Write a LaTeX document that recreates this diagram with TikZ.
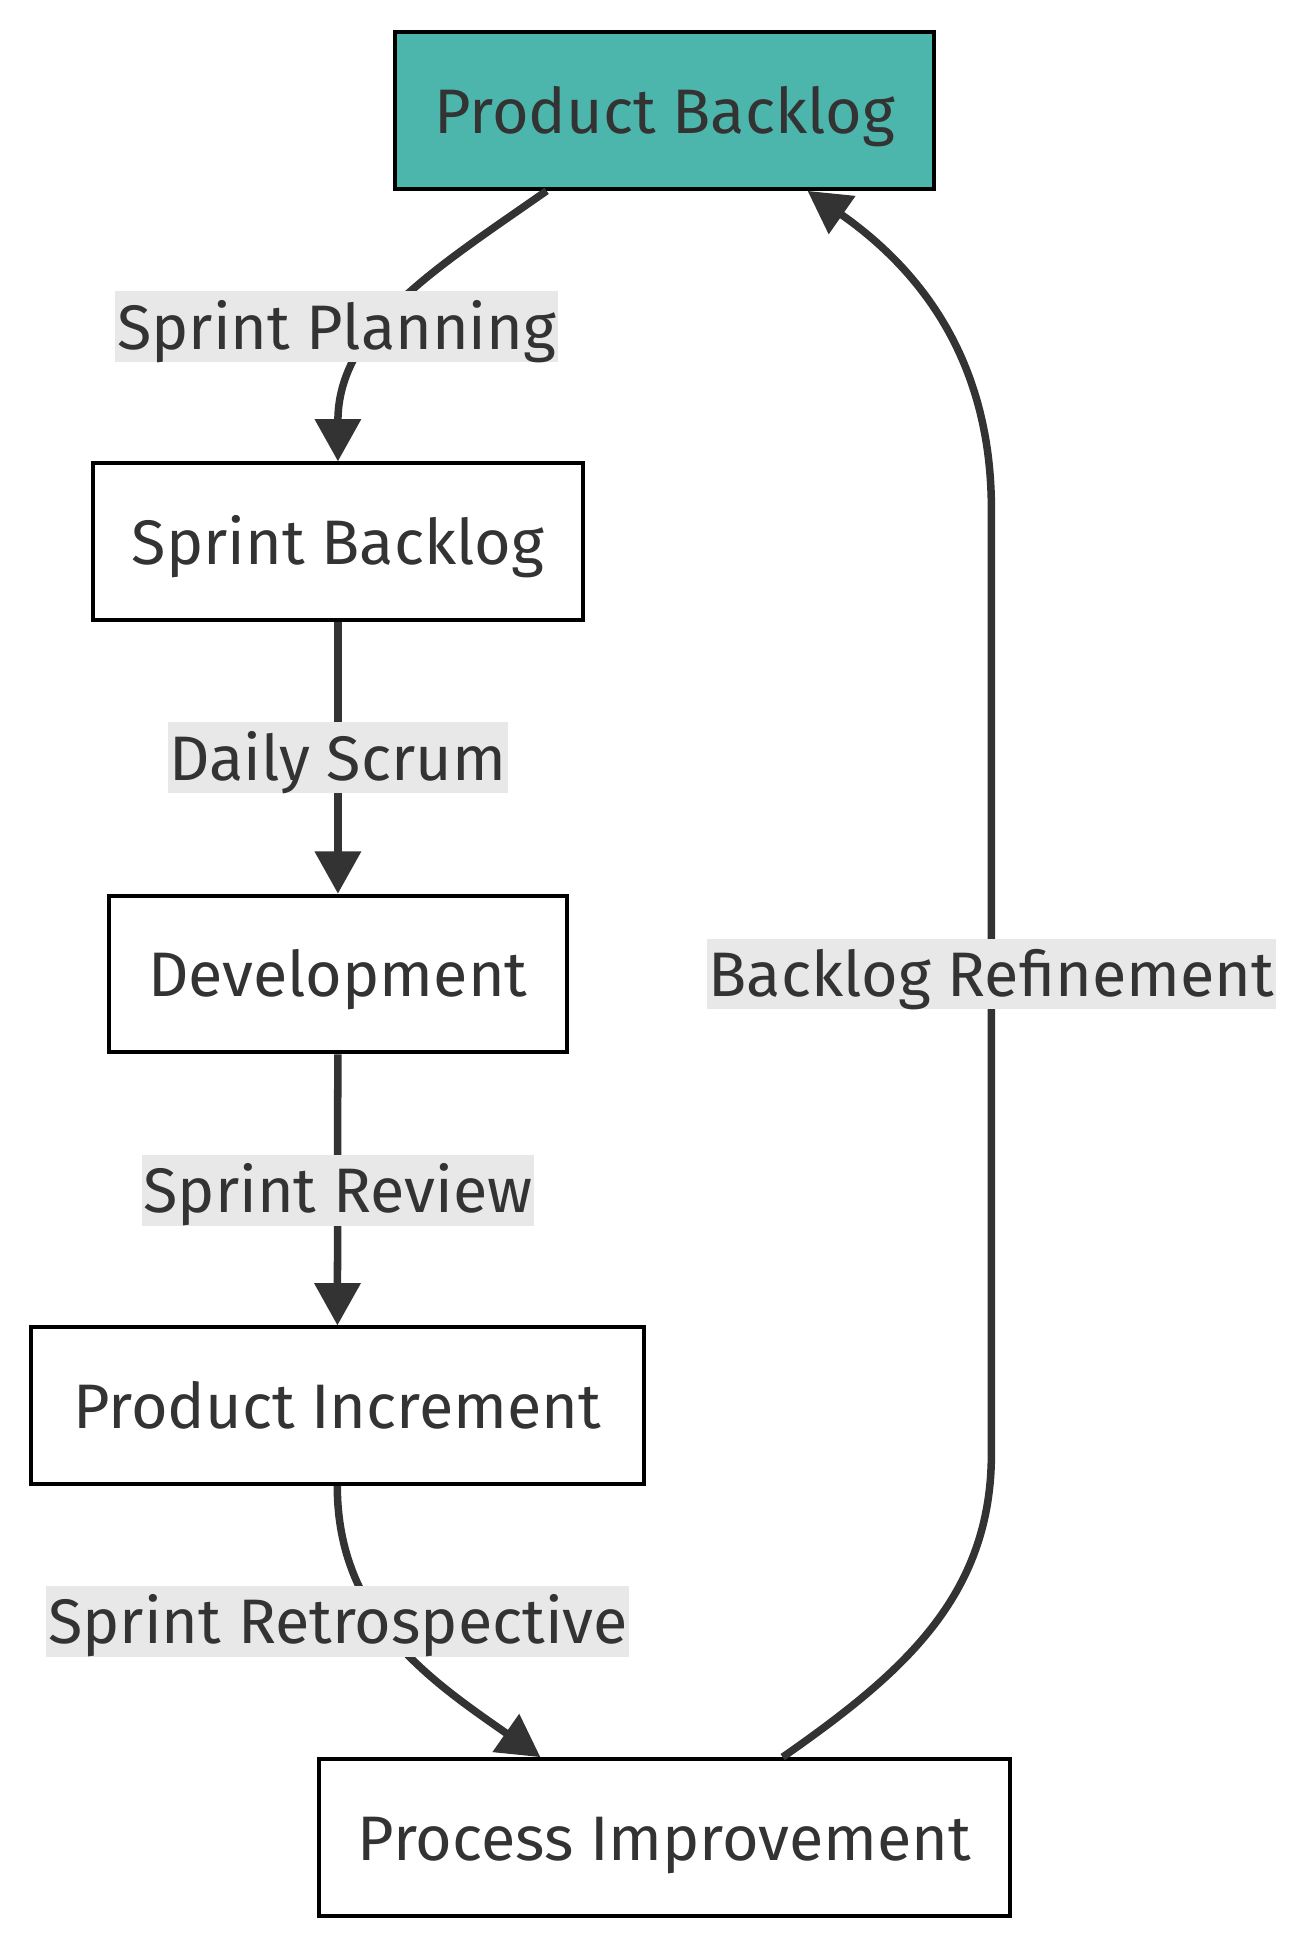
\documentclass[tikz,border=0pt]{standalone}
\usepackage{fontspec}
\setmainfont{Fira Sans}
\usetikzlibrary{arrows.meta,calc,positioning}
\definecolor{mytealfill}{HTML}{4DB6AC}
\definecolor{mytext}{HTML}{333333}
\definecolor{mylabelbg}{HTML}{E8E8E8}
\tikzset{
    mybox/.style={draw=black,line width=2.3pt,fill=white,text=mytext,minimum height=3.15cm,inner sep=0pt,
      text height=33pt,text depth=7pt},
    mylabel/.style={fill=mylabelbg,text=mytext,minimum height=1.425cm,inner xsep=1pt,inner ysep=0pt,
      text height=33pt,text depth=7pt},
    myflow/.style={draw=mytext,line width=4.3pt,-{Triangle[length=0.85cm,width=0.9cm]}},
    every node/.style={font=\fontsize{36}{43}\selectfont}
}
\begin{document}
\begin{tikzpicture}[x=0.025cm,y=0.025cm]
  \useasboundingbox (0,0) rectangle (1050,-1568);

  % Kaesten
  \node[mybox,fill=mytealfill,minimum width=10.85cm] (PB) at (535,-89) {Product Backlog};
  \node[mybox,minimum width=9.85cm]  (SB)    at (272,-436)    {Sprint Backlog};
  \node[mybox,minimum width=9.225cm] (Dev)   at (272,-784)    {Development};
  \node[mybox,minimum width=12.325cm] (PInc) at (271.5,-1131.5) {Product Increment};
  \node[mybox,minimum width=13.9cm]  (ProcI) at (535,-1479)   {Process Improvement};

  \coordinate (refLow)  at (798,-1170);
  \coordinate (refHigh) at (798,-410);

  % Kanten
  \draw[myflow] ($(PB.south)+(-95,0)$) to[out=-145,in=90] (SB.north);
  \draw[myflow] (SB) -- (Dev);
  \draw[myflow] (Dev) -- (PInc);
  \draw[myflow] (PInc.south) to[out=-90,in=145] ($(ProcI.north)+(-100,0)$);
  \draw[myflow] ($(ProcI.north)+(95,0)$) to[out=35,in=-90] (refLow)
    -- (refHigh) to[out=90,in=-35] ($(PB.south)+(115,0)$);

  % Beschriftungen
  \node[mylabel] (lPlan)   at (271,-263)  {Sprint Planning};
  \node[mylabel] (lDaily)  at (272,-610)  {Daily Scrum};
  \node[mylabel] (lReview) at (272,-958)  {Sprint Review};
  \node[mylabel] (lRetro)  at (272,-1305) {Sprint Retrospective};
  \node[mylabel] (lRefine) at (798,-784)  {Backlog Refinement};
\end{tikzpicture}
\end{document}
